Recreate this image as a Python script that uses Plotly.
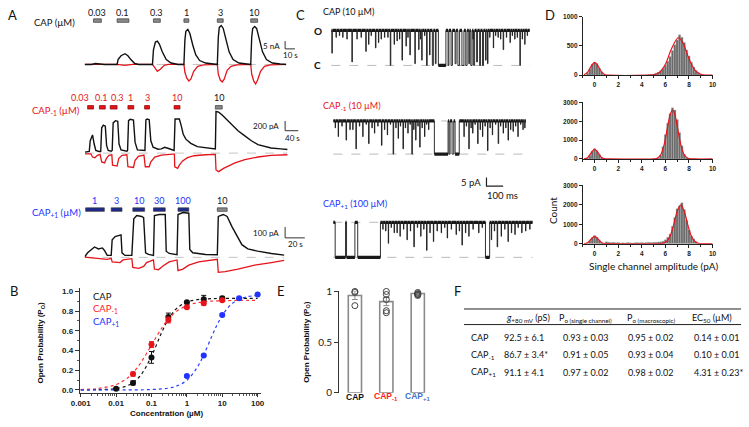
import plotly.graph_objects as go

W, H = 749, 427
def px(x): return x / W
def py(y): return 1 - y / H

BLACK = "#111111"; RED = "#e5141b"; BLUE = "#2233ff"; NAVY = "#1c2a8c"; GRAY = "#808080"
FC = "Lato"; FA = "Liberation Sans"

# ---------------- DATA ----------------
# Panel A1: CAP macroscopic currents (time s, current nA)
a1_t_black = [0,7,11,16,20,33,34,37,41,44,47,51,55,69,70,72,74,76,79,83,88,95,101,102,103,105,107,110,113,117,123,131,135,136,137,139,141,144,147,151,157,165,169,170,171,173,175,178,181,185,191,199,205]
a1_black = [0,0,0.6,0.3,0,0,3.1,5.6,6.9,5.6,3.1,0.6,0,0,9.4,14.4,15,13.1,8.1,3.1,0.9,0,0,15.6,21.3,22.5,20,12.5,6.25,2.5,0.9,0.3,0,17.5,23.75,25,23.1,15.6,8.1,3.1,0.9,0.3,0,17.5,23.1,24.4,23.1,15.6,8.1,3.1,0.9,0.3,0]
a1_t_red = [0,33,41,49,69,71,74,77,81,85,101,102,104,106,108,111,115,121,135,136,138,140,142,145,149,155,169,170,172,174,176,179,183,189,205]
a1_red = [0,0,-0.6,0,0,-1.9,-4.4,-3.1,-0.6,0,0,-5,-8.75,-10.6,-9.4,-4.4,-1.25,-0.3,0,-6.25,-10,-11.25,-9.4,-3.75,-1.25,-0.3,0,-6.25,-10.6,-12.5,-10,-4.4,-1.25,-0.3,0]
a1_conc = ["0.03","0.1","0.3","1","3","10"]
a1_on = [9,33,70,101,135,169]
a1_off = [17,45,77,106,141,176]

# Panel A2: CAP-1 (time s, current pA)
a2_t_black = [1,14,17,24,29,34,44,49,52,57,63,67,72,81,84,87,94,101,105,111,129,131,134,139,149,154,161,181,184,187,191,197,202,209,224,234,244,254,269,273,276,289,294,301,309,324,344,369,394,399,401,409,419,429,439,454,469,489,509,529,549,569,599,619]
a2_black = [20,34,254,374,186,54,34,34,520,574,554,154,54,40,54,620,666,654,186,66,40,54,666,694,680,220,66,54,54,680,700,686,254,120,80,86,120,100,54,54,700,700,586,386,286,200,134,106,86,86,854,840,786,720,654,554,454,354,254,174,134,106,86,74]
a2_t_red = [1,19,24,31,39,47,52,61,66,74,83,85,99,104,114,129,132,149,154,164,181,185,197,202,214,234,269,274,275,284,289,299,314,334,369,399,401,409,424,439,459,489,529,569,619]
a2_red = [-14,-14,-80,-94,-46,-26,-180,-200,-114,-46,-34,-246,-266,-114,-46,-34,-280,-294,-146,-66,-40,-280,-280,-180,-80,-40,-20,-20,-280,-314,-246,-160,-94,-54,-34,-26,-346,-380,-314,-266,-200,-134,-80,-46,-34]
a2_conc = ["0.03","0.1","0.3","1","3","10","10"]
a2_on = [9,45,78,132,183,273,399]
a2_off = [27,63,99,150,198,291,420]

# Panel A3: CAP+1 (time s, current pA)
a3_t_black = [0,3,6,10,14,18,20,23,27,28,31,35,37,38,41,48,50,53,58,60,62,65,70,71,76,82,83,86,94,95,100,106,107,110,123,135,136,141,145,150,155,160,166,176,190,203]
a3_black = [6,42,66,96,78,87,66,18,18,162,192,198,207,42,18,18,357,387,378,366,42,27,18,387,396,396,57,36,24,396,414,408,72,42,27,24,378,396,378,282,192,117,78,57,36,21]
a3_t_red = [0,16,23,27,28,36,39,48,49,55,60,63,70,71,75,80,86,94,95,100,106,116,135,136,143,156,173,190,203]
a3_red = [3,-12,-18,-9,-42,-48,-24,-12,-93,-102,-84,-48,-24,-108,-114,-78,-42,-24,-123,-108,-72,-42,-18,-138,-132,-108,-72,-48,-27]
a3_conc = ["1","3","10","30","100","10"]
a3_on = [1,27,49,70,95,135]
a3_off = [20,38,61,82,106,145]

# Panel B: concentration-response (uM, Po)
b_conc_cap = [0.01,0.03,0.1,0.3,1,3,10]
b_po_cap = [0.01,0.07,0.33,0.74,0.89,0.92,0.93]
b_err_cap = [0.005,0.02,0.06,0.04,0.01,0.04,0.02]
b_conc_m1 = [0.03,0.1,0.3,1,3,10]
b_po_m1 = [0.16,0.46,0.71,0.84,0.88,0.91]
b_err_m1 = [0.02,0.03,0.03,0.01,0.02,0.01]
b_conc_p1 = [1,3,10,30,100]
b_po_p1 = [0.14,0.35,0.76,0.93,0.97]
b_err_p1 = [0.01,0.01,0.01,0.01,0.01]
fit_conc = [0.001,0.003,0.01,0.02,0.03,0.05,0.1,0.2,0.3,0.5,1,2,3,5,10,30,100]
fit_cap = [0.0003,0.002,0.013,0.040,0.073,0.150,0.343,0.594,0.718,0.823,0.892,0.917,0.923,0.927,0.929,0.930,0.930]
fit_m1 = [0.0036,0.0134,0.054,0.115,0.174,0.276,0.455,0.634,0.718,0.795,0.856,0.886,0.895,0.902,0.906,0.909,0.910]
fit_conc_p1 = [0.001,0.01,0.1,0.3,0.5,1,2,3,5,7,10,15,20,30,50,100]
fit_p1 = [0.0,0.0001,0.0034,0.0175,0.037,0.097,0.233,0.356,0.539,0.654,0.756,0.841,0.882,0.920,0.946,0.961]

# Panel C: single-channel records (ms; closures: start, duration, level pA; flickers: time, level)
c1_start, c1_end, c1_open = 12, 1200, 20
c1_t = [15,80,135,165,218,235,276,294,330,365,388,420,435,459,482,512,535,553,582,600,617,635,653,711,729,753,770,794,817,835,847,864,882,900,917,935,947,982,1010,1041,1082,1110,1141,1170]
c1_dur = [3,2,3,2,3,2,3,2,2,3,2,2,3,2,3,3,2,3,4,3,6,4,45,5,8,6,10,12,8,5,8,6,5,5,6,4,3,2,2,3,2,2,3,2]
c1_lvl = [7,16,2,15,8,12,10,13,16,0,12,15,3,11,6,1,9,3,0,6,0,1,0,0,0,1,0,0,0,1,0,0,2,0,0,3,1,10,16,9,13,15,0,12]
c1_flick_t = [40,60,105,190,250,310,350,405,470,545,570,860,960,995,1025,1060,1095,1125,1155,1185]
c1_flick_lvl = [16,17,15,16,17,15,16,14,16,15,17,15,16,17,15,16,17,16,15,17]
c2_start, c2_end, c2_open = 24, 1177, 19
c2_t = [53,100,123,159,200,235,270,312,347,382,412,441,470,494,517,541,570,594,629,717,735,753,806,835,858,888,917,947,976,1011,1041,1070,1100,1129,1159]
c2_dur = [2,3,2,3,2,3,2,3,2,3,2,3,2,3,2,3,2,2,82,6,10,25,2,3,2,3,2,3,2,3,2,3,2,2,2]
c2_lvl = [10,8,14,3,10,6,12,5,11,0,9,3,12,0,8,4,10,14,0,0,0,0,10,3,12,6,10,2,11,6,12,8,13,10,14]
c2_flick_t = [35,75,140,180,220,255,290,330,365,398,425,455,483,505,530,555,582,820,848,872,903,932,962,995,1025,1056,1085,1115,1145,1170]
c2_flick_lvl = [15,16,14,16,17,15,16,14,17,15,16,15,17,14,16,15,17,16,15,17,14,16,15,17,16,15,14,16,17,15]
c3_start, c3_end, c3_open = 24, 1217, 20
c3_t = [35,103,170,353,388,423,465,506,547,582,623,670,706,759,794,835,894,935,970,1005,1029,1070,1111,1152]
c3_dur = [62,50,136,2,2,2,2,3,2,3,2,2,2,2,3,2,2,25,2,3,2,2,2,2]
c3_lvl = [0,0,0,8,14,12,10,6,12,4,9,14,11,13,7,12,14,0,10,6,12,9,13,14]
c3_flick_t = [320,337,370,405,444,485,527,565,602,645,690,730,778,815,860,915,988,1050,1090,1130,1175,1200]
c3_flick_lvl = [16,15,17,14,16,15,17,16,14,15,17,16,15,14,16,17,15,16,14,17,15,16]

# Panel D: amplitude histograms (pA, counts) and Gaussian fits
d1_amp = [-0.8,-0.6,-0.4,-0.2,0.0,0.2,0.4,0.6,0.8,1.0,4.6,4.8,5.0,5.2,5.4,5.6,5.8,6.0,6.2,6.4,6.6,6.8,7.0,7.2,7.4,7.6,7.8,8.0,8.2,8.4,8.6,8.8,9.0,9.2]
d1_count = [5,40,110,190,215,200,120,60,15,3,10,15,20,35,55,80,120,170,240,320,420,520,600,690,650,560,430,330,220,140,80,40,15,5]
d1_fit_x = [-0.9,-0.6,-0.3,0,0.3,0.6,0.9,1.2,4.5,5.0,5.5,6.0,6.5,7.1,7.5,8.0,8.5,9.0,9.5,10]
d1_fit_y = [8,51,152,220,152,51,8,0,0,7,47,187,443,640,544,280,87,16,2,0]
d2_amp = [-0.6,-0.4,-0.2,0.0,0.2,0.4,0.6,0.8,5.4,5.6,5.8,6.0,6.2,6.4,6.6,6.8,7.0,7.2,7.4,7.6,7.8,8.0]
d2_count = [40,200,420,540,440,230,80,20,60,200,650,1300,1900,2400,2720,2600,2100,1400,700,250,80,20]
d2_fit_x = [-0.9,-0.6,-0.3,0,0.3,0.6,0.9,1.2,5.0,5.3,5.6,5.9,6.2,6.4,6.6,6.8,7.0,7.3,7.6,7.9,8.2,8.5,10]
d2_fit_y = [6,70,316,520,316,70,6,0,5,40,220,775,1752,2355,2600,2355,1752,775,220,40,5,0,0]
d3_amp = [-0.6,-0.4,-0.2,0.0,0.2,0.4,0.6,0.8,1.0,1.2,1.4,1.6,1.8,2.0,2.2,2.4,2.6,2.8,3.0,3.2,3.4,3.6,3.8,4.0,4.2,4.4,4.6,4.8,5.0,5.2,5.4,5.6,5.8,6.0,6.2,6.4,6.6,6.8,7.0,7.2,7.4,7.6,7.8,8.0,8.2,8.4,8.6,8.8]
d3_count = [30,150,320,420,330,160,50,15,100,80,60,70,50,60,40,50,40,60,50,40,50,60,50,60,50,60,70,60,70,80,90,100,130,200,330,500,900,1350,1800,1950,2100,1750,1200,700,400,250,120,30]
d3_fit_x = [-0.9,-0.6,-0.3,0,0.3,0.6,0.9,1.2,5.5,5.8,6.1,6.4,6.7,7.0,7.3,7.6,7.9,8.2,8.5,8.8,9.1,9.5,10]
d3_fit_y = [4,51,231,380,231,51,4,0,3,22,111,392,964,1654,1980,1654,964,392,111,22,3,0,0]

# Panel E: single-channel Po
e_groups = ["CAP", "CAP<sub>-1</sub>", "CAP<sub>+1</sub>"]
e_mean = [0.96, 0.90, 0.98]
e_sem = [0.04, 0.04, 0.01]
e_points = [[1.0, 0.99, 0.86], [1.0, 0.97, 0.92, 0.81, 0.79], [0.99, 0.98, 0.97, 0.96, 0.97]]

# Panel F: table
f_names = ["CAP", "CAP<sub>-1</sub>", "CAP<sub>+1</sub>"]
f_headers = ["<i>g</i><sub>+80 mV</sub> (pS)", "P<sub>o (single channel)</sub>", "P<sub>o (macroscopic)</sub>", "EC<sub>50</sub> (µM)"]
f_g = ["92.5 ± 6.1", "86.7 ± 3.4*", "91.1 ± 4.1"]
f_po_single = ["0.93 ± 0.03", "0.91 ± 0.05", "0.97 ± 0.02"]
f_po_macro = ["0.95 ± 0.02", "0.93 ± 0.04", "0.98 ± 0.02"]
f_ec50 = ["0.14 ± 0.01", "0.10 ± 0.01", "4.31 ± 0.23*"]

# ---------------- FIGURE ----------------
fig = go.Figure()
annotations = []
shapes = []
axes = {}

def ax_name(n):
    return "" if n == 1 else str(n)

def add_axes(n, xd, yd, xr, yr, xkw=None, ykw=None):
    s = ax_name(n)
    xa = dict(domain=[px(xd[0]), px(xd[1])], range=xr, anchor="y" + s, visible=False,
              showgrid=False, zeroline=False, fixedrange=True)
    ya = dict(domain=[py(yd[1]), py(yd[0])], range=yr, anchor="x" + s, visible=False,
              showgrid=False, zeroline=False, fixedrange=True)
    if xkw: xa.update(xkw)
    if ykw: ya.update(ykw)
    axes["xaxis" + s] = xa
    axes["yaxis" + s] = ya

def ann(text, x, y, size=9, color=BLACK, family=FC, xanchor="center", yanchor="middle", angle=0, xref="paper", xshift=0):
    annotations.append(dict(text=text, x=(x if xref != "paper" else px(x)), y=py(y), xref=xref, yref="paper",
                            showarrow=False, xshift=xshift, textangle=angle,
                            font=dict(family=family, size=size, color=color),
                            xanchor=xanchor, yanchor=yanchor))

def line(n, x, y, color, width, dash=None, shape="linear"):
    s = ax_name(n)
    fig.add_trace(go.Scatter(x=x, y=y, xaxis="x" + s, yaxis="y" + s, mode="lines",
                             line=dict(color=color, width=width, dash=dash, shape=shape),
                             hoverinfo="skip", showlegend=False))

# ---- Panel A ----
add_axes(1, (77, 292), (16, 84), [0, 215], [-15, 27.5])
add_axes(2, (77, 297), (105, 174), [0, 660], [-460, 920])
add_axes(3, (77, 302), (205, 278), [0, 225], [-180, 477])

a_sets = [
    (1, a1_t_black, a1_black, a1_t_red, a1_red, a1_conc, a1_on, a1_off, 15, 7,
     [BLACK] * 6, ["#8a8a8a"] * 6, [0] * 6),
    (2, a2_t_black, a2_black, a2_t_red, a2_red, a2_conc, a2_on, a2_off, 104, 94,
     [RED] * 6 + [BLACK], [RED] * 6 + ["#8a8a8a"], [-11, -1, 4, 0, 0, 0, 0]),
    (3, a3_t_black, a3_black, a3_t_red, a3_red, a3_conc, a3_on, a3_off, 209, 200,
     [BLUE] * 5 + [BLACK], [NAVY] * 5 + ["#8a8a8a"], [0] * 6),
]
for n, tb, ib, tr, ir, conc, on, off, bar_y, lab_y, lcols, bcols, shifts in a_sets:
    s = ax_name(n)
    line(n, [tb[0], tb[-1]], [0, 0], "#b5b5b5", 0.8, dash="dash")
    line(n, tr, ir, RED, 1.3)
    line(n, tb, ib, BLACK, 1.4)
    for c, t0, t1, lc, bc, sh in zip(conc, on, off, lcols, bcols, shifts):
        shapes.append(dict(type="rect", xref="x" + s, yref="paper", x0=t0, x1=t1,
                           y0=py(bar_y + 1.8), y1=py(bar_y - 1.8), fillcolor=bc,
                           line=dict(color="#3a3a3a" if bc != RED else "#8b0000", width=0.7)))
        ann(c, (t0 + t1) / 2, lab_y, size=9, color=lc, xref="x" + s, xshift=sh)

# scale bars A
line(1, [204, 204, 214], [15, 10, 10], "#333", 1)
ann("5 nA", 278, 41, size=8, xanchor="right")
ann("10 s", 286, 50, size=8)
line(2, [612, 612, 652], [660, 460, 460], "#333", 1)
ann("200 pA", 277, 123, size=8, xanchor="right")
ann("40 s", 288, 136, size=8)
line(3, [204, 204, 224], [280, 180, 180], "#333", 1)
ann("100 pA", 277, 233, size=8, xanchor="right")
ann("20 s", 292, 244, size=8)

ann("A", 4, 9, size=13)
ann("CAP (µM)", 23, 17, size=9.5, xanchor="left")
ann("CAP<sub>-1</sub> (µM)", 21, 108, size=9.5, color=RED, xanchor="left")
ann("CAP<sub>+1</sub> (µM)", 21, 212, size=9.5, color=BLUE, xanchor="left")

# ---- Panel C ----
def merge_events(ev_t, ev_d, ev_l, fl_t, fl_l):
    ev = list(zip(ev_t, ev_d, ev_l)) + [(t, 2, l) for t, l in zip(fl_t, fl_l)]
    ev.sort(key=lambda e: e[0])
    return ev

def channel_xy(t0, t1, op, ev):
    xs, ys = [t0], [op]
    for t, d, l in ev:
        xs += [t, t, t + d, t + d]
        ys += [op, l, l, op]
    xs.append(t1); ys.append(op)
    return xs, ys

def channel_band(t0, t1, op, ev):
    xs, ys = [], []
    cur = t0
    for t, d, l in ev:
        xs += [cur, t, None]; ys += [op, op, None]
        if d >= 20:
            xs += [t, t + d, None]; ys += [l, l, None]
        cur = t + d
    xs += [cur, t1]; ys += [op, op]
    return xs, ys

add_axes(4, (326, 534), (18, 66), [0, 1224], [-2.78, 23.9])
add_axes(5, (326, 534), (110, 188), [0, 1224], [-20.1, 23.46])
add_axes(6, (326, 534), (214, 264), [0, 1224], [-3.33, 24.44])
for n, (t0, t1, op, et, ed, el, ft, fl), both in [
        (4, (c1_start, c1_end, c1_open, c1_t, c1_dur, c1_lvl, c1_flick_t, c1_flick_lvl), False),
        (5, (c2_start, c2_end, c2_open, c2_t, c2_dur, c2_lvl, c2_flick_t, c2_flick_lvl), True),
        (6, (c3_start, c3_end, c3_open, c3_t, c3_dur, c3_lvl, c3_flick_t, c3_flick_lvl), True)]:
    ev = merge_events(et, ed, el, ft, fl)
    line(n, [t0, t1], [0, 0], "#a8a8a8", 0.8, dash="dash")
    if both:
        line(n, [t0, t1], [op, op], "#a8a8a8", 0.8, dash="dash")
    bx, by = channel_band(t0, t1, op, ev)
    line(n, bx, by, "#1a1a1a", 3.2)
    cx, cy = channel_xy(t0, t1, op, ev)
    line(n, cx, cy, "#1a1a1a", 0.9)

line(5, [941, 941, 1041], [-13.4, -18.4, -18.4], "#222", 1.2)
ann("5 pA", 482, 181, size=9.5, xanchor="right")
ann("100 ms", 502, 194, size=9.5)
ann("C", 297, 9, size=13)
ann("CAP (10 µM)", 318, 6, size=9, xanchor="left")
ann("CAP<sub>-1</sub> (10 µM)", 318, 103, size=9, color=RED, xanchor="left")
ann("CAP<sub>+1</sub> (100 µM)", 318, 203, size=9, color=BLUE, xanchor="left")
ann("<b>O</b>", 314, 26, size=10)
ann("<b>C</b>", 314, 61, size=10)

# ---- Panel D ----
dtick_font = dict(family=FA, size=6.5, color="#222", weight="bold")
def d_axes(n, yd, ymax, ydt):
    add_axes(n, (584, 716), yd, [-1, 10], [0, ymax],
             xkw=dict(visible=True, showline=True, linecolor="#222", linewidth=1, ticks="outside",
                      ticklen=3, tickcolor="#222", tickvals=[0, 2, 4, 6, 8, 10], tickfont=dtick_font,
                      minor=dict(tickvals=[-1, 1, 3, 5, 7, 9], ticks="outside", ticklen=2, tickcolor="#222"),
                      showticklabels=True),
             ykw=dict(visible=True, showline=True, linecolor="#222", linewidth=1, ticks="outside",
                      ticklen=3, tickcolor="#222", tickvals=list(range(0, ymax + 1, ydt)),
                      tickfont=dtick_font))
d_axes(7, (11, 71), 1000, 500)
d_axes(8, (99, 157), 3000, 1000)
d_axes(9, (184, 244), 3000, 1000)
for n, am, cn, fx, fy in [(7, d1_amp, d1_count, d1_fit_x, d1_fit_y),
                          (8, d2_amp, d2_count, d2_fit_x, d2_fit_y),
                          (9, d3_amp, d3_count, d3_fit_x, d3_fit_y)]:
    s = ax_name(n)
    fig.add_trace(go.Bar(x=am, y=cn, width=0.2, xaxis="x" + s, yaxis="y" + s,
                         marker=dict(color="#6a6a6a", line=dict(color="#c8c8c8", width=0.3)),
                         hoverinfo="skip", showlegend=False))
    line(n, fx, fy, "#e8141c", 1.2, shape="spline")
ann("D", 551, 9, size=13)
ann("Count", 553, 210, size=10, angle=-90)
ann("Single channel amplitude (pA)", 656, 267, size=10)

# ---- Panel B ----
bfont = dict(family=FA, size=8, color="#222", weight="bold")
minor_x = [m * 10 ** e for e in range(-3, 2) for m in range(2, 10)]
add_axes(10, (72, 256), (289, 397), [-3.028, 2.083], [-0.0297, 1.0396],
         xkw=dict(visible=True, type="log", showline=True, linecolor="#333", linewidth=1, ticks="outside",
                  ticklen=3, tickcolor="#333", tickvals=[0.001, 0.01, 0.1, 1, 10, 100],
                  ticktext=["0.001", "0.01", "0.1", "1", "10", "100"], tickfont=bfont,
                  minor=dict(tickvals=minor_x, ticks="outside", ticklen=2, tickcolor="#555")),
         ykw=dict(visible=True, showline=True, linecolor="#333", linewidth=1, ticks="outside",
                  ticklen=4, tickcolor="#333", tickvals=[0, 0.2, 0.4, 0.6, 0.8, 1.0],
                  ticktext=["0.0", "0.2", "0.4", "0.6", "0.8", "1.0"], tickfont=bfont,
                  minor=dict(tickvals=[0.1, 0.3, 0.5, 0.7, 0.9], ticks="outside", ticklen=2, tickcolor="#555")))
line(10, fit_conc, fit_cap, "#111", 1.2, dash="dot", shape="spline")
line(10, fit_conc, fit_m1, "#ff3030", 1.2, dash="dot", shape="spline")
line(10, fit_conc_p1, fit_p1, "#2a3cff", 1.2, dash="dot", shape="spline")
for xs, ys, es, col in [(b_conc_cap, b_po_cap, b_err_cap, "#111"),
                        (b_conc_m1, b_po_m1, b_err_m1, "#e8141c"),
                        (b_conc_p1, b_po_p1, b_err_p1, "#2233ff")]:
    fig.add_trace(go.Scatter(x=xs, y=ys, xaxis="x10", yaxis="y10", mode="markers",
                             marker=dict(color=col, size=6),
                             error_y=dict(type="data", array=es, color=col, thickness=1, width=2.5),
                             cliponaxis=False, hoverinfo="skip", showlegend=False))
ann("B", 5, 293, size=13)
ann("<b>Open Probability (P<sub>O</sub>)</b>", 33, 345, size=8, family=FA, angle=-90)
ann("<b>Concentration (µM)</b>", 160, 418, size=8, family=FA)
ann("CAP", 83, 298, size=9.5, xanchor="left")
ann("CAP<sub>-1</sub>", 83, 311, size=9.5, color="#ff2020", xanchor="left")
ann("CAP<sub>+1</sub>", 83, 324, size=9.5, color="#2233ff", xanchor="left")

# ---- Panel E ----
add_axes(11, (336, 432), (293, 397), [-0.5, 2.5], [0, 1],
         ykw=dict(visible=True, showline=True, linecolor="#333", linewidth=1, ticks="outside",
                  ticklen=4, tickcolor="#333", tickvals=[0, 0.5, 1], ticktext=["0", "0.5", "1"],
                  tickfont=dict(family=FC, size=10, color="#222")))
fig.add_trace(go.Bar(x=[0, 1, 2], y=e_mean, width=0.42, xaxis="x11", yaxis="y11",
                     marker=dict(color="white", line=dict(color="#8a8a8a", width=1.6)),
                     error_y=dict(type="data", array=e_sem, color="#8a8a8a", thickness=1, width=3),
                     hoverinfo="skip", showlegend=False))
for i, pts in enumerate(e_points):
    fig.add_trace(go.Scatter(x=[i] * len(pts), y=pts, xaxis="x11", yaxis="y11", mode="markers",
                             marker=dict(symbol="circle-open", color="#444", size=6, line=dict(width=1)),
                             cliponaxis=False, hoverinfo="skip", showlegend=False))
e_cols = ["#111", "#ff2020", "#4472c4"]
for i, (g, col) in enumerate(zip(e_groups, e_cols)):
    annotations.append(dict(text="<b>" + g + "</b>", x=i, y=py(409), xref="x11", yref="paper",
                            showarrow=False, font=dict(family=FA, size=8.5, color=col)))
ann("E", 277, 293, size=13)
ann("<b>Open Probability (P<sub>O</sub>)</b>", 303, 345, size=8, family=FA, angle=-90)

# ---- Panel F ----
ann("F", 456, 293, size=13)
shapes.append(dict(type="line", xref="paper", yref="paper", x0=px(463), x1=px(745), y0=py(311), y1=py(311),
                   line=dict(color="#222", width=1)))
shapes.append(dict(type="line", xref="paper", yref="paper", x0=px(463), x1=px(745), y0=py(327), y1=py(327),
                   line=dict(color="#222", width=1)))
for h, x in zip(f_headers, [528, 587, 653, 715]):
    ann(h, x, 320, size=9)
for r, (nm, g, ps, pm, ec) in enumerate(zip(f_names, f_g, f_po_single, f_po_macro, f_ec50)):
    yy = 340 + 18 * r
    ann(nm, 468, yy, size=9, xanchor="left")
    ann(g, 502, yy, size=9, xanchor="left")
    ann(ps, 587, yy, size=9)
    ann(pm, 653, yy, size=9)
    ann(ec, 695, yy, size=9, xanchor="left")

fig.update_layout(width=W, height=H, autosize=False, margin=dict(l=0, r=0, t=0, b=0, pad=0),
                  paper_bgcolor="white", plot_bgcolor="white", showlegend=False,
                  barmode="overlay", annotations=annotations, shapes=shapes, **axes)
fig.write_html("out.html", config={"displayModeBar": False, "responsive": False},
               post_script="document.body.style.margin='0';document.body.style.overflow='hidden';")
